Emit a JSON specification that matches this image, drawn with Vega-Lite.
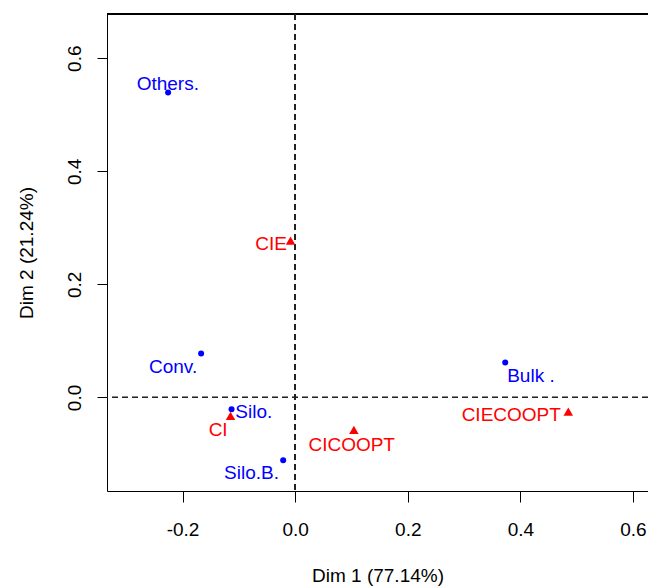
{
  "$schema": "https://vega.github.io/schema/vega-lite/v6.json",
  "width": 541,
  "height": 477,
  "autosize": "none",
  "padding": {"left": 107, "top": 14, "right": 0, "bottom": 95},
  "background": "white",
  "config": {
    "view": {"stroke": null},
    "font": "Liberation Sans"
  },
  "data": {
    "values": [
      {"name": "Others.", "group": "row", "x": -0.2257, "y": 0.5395, "lx": -0.2262, "ly": 0.556},
      {"name": "Conv.", "group": "row", "x": -0.167, "y": 0.0775, "lx": -0.2168, "ly": 0.0558},
      {"name": "Silo.", "group": "row", "x": -0.113, "y": -0.0209, "lx": -0.0734, "ly": -0.0239},
      {"name": "Silo.B.", "group": "row", "x": -0.0213, "y": -0.1112, "lx": -0.0775, "ly": -0.1313},
      {"name": "Bulk .", "group": "row", "x": 0.3731, "y": 0.0616, "lx": 0.4188, "ly": 0.0404},
      {"name": "CIE", "group": "col", "x": -0.0082, "y": 0.2775, "lx": -0.0426, "ly": 0.2729},
      {"name": "CI", "group": "col", "x": -0.1148, "y": -0.0327, "lx": -0.1368, "ly": -0.0566},
      {"name": "CICOOPT", "group": "col", "x": 0.1043, "y": -0.0575, "lx": 0.1004, "ly": -0.0818},
      {"name": "CIECOOPT", "group": "col", "x": 0.4851, "y": -0.0251, "lx": 0.3838, "ly": -0.0301}
    ]
  },
  "layer": [
    {
      "mark": {"type": "rule", "color": "#000", "strokeWidth": 1},
      "encoding": {
        "y": {"datum": 0.6782, "type": "quantitative"}
      }
    },
    {
      "mark": {"type": "rule", "color": "#222", "strokeWidth": 1, "strokeDash": [6, 4]},
      "encoding": {
        "x": {"datum": 0, "type": "quantitative"}
      }
    },
    {
      "mark": {"type": "rule", "color": "#222", "strokeWidth": 1, "strokeDash": [6, 4]},
      "encoding": {
        "y": {"datum": 0, "type": "quantitative"}
      }
    },
    {
      "mark": {"type": "point", "filled": true, "opacity": 1},
      "encoding": {
        "x": {
          "field": "x", "type": "quantitative",
          "scale": {"domain": [-0.3342, 0.6267], "nice": false, "zero": false},
          "axis": {
            "values": [-0.2, 0, 0.2, 0.4, 0.6],
            "labelExpr": "replace(format(datum.value, '.1f'), '\u2212', '-')",
            "grid": false,
            "domain": true, "domainColor": "#000", "domainWidth": 1,
            "ticks": true, "tickColor": "#000", "tickWidth": 1, "tickSize": 11,
            "labelFontSize": 19, "labelColor": "#000", "labelFont": "Liberation Sans",
            "labelBaseline": "alphabetic", "labelPadding": 33, "labelFlush": false, "labelOverlap": false,
            "title": "Dim 1 (77.14%)",
            "titleFontSize": 19, "titleFontWeight": "normal", "titleColor": "#000", "titleFont": "Liberation Sans",
            "titleBaseline": "alphabetic", "titleY": 90.5
          }
        },
        "y": {
          "field": "y", "type": "quantitative",
          "scale": {"domain": [-0.1655, 0.6782], "nice": false, "zero": false},
          "axis": {
            "values": [0, 0.2, 0.4, 0.6],
            "labelExpr": "replace(format(datum.value, '.1f'), '\u2212', '-')",
            "grid": false,
            "domain": true, "domainColor": "#000", "domainWidth": 1,
            "ticks": true, "tickColor": "#000", "tickWidth": 1, "tickSize": 10,
            "labelFontSize": 19, "labelColor": "#000", "labelFont": "Liberation Sans",
            "labelAngle": -90, "labelAlign": "center", "labelBaseline": "alphabetic", "labelPadding": 17,
            "labelFlush": false, "labelOverlap": false,
            "title": "Dim 2 (21.24%)",
            "titleFontSize": 19, "titleFontWeight": "normal", "titleColor": "#000", "titleFont": "Liberation Sans",
            "titleAngle": -90, "titleAlign": "center", "titleBaseline": "alphabetic", "titleX": -75, "titleY": 238.5
          }
        },
        "color": {"field": "group", "type": "nominal", "scale": {"domain": ["row", "col"], "range": ["#0000FF", "#FF0000"]}, "legend": null},
        "shape": {"field": "group", "type": "nominal", "scale": {"domain": ["row", "col"], "range": ["circle", "triangle-up"]}, "legend": null},
        "size": {"field": "group", "type": "nominal", "scale": {"domain": ["row", "col"], "range": [36, 90]}, "legend": null}
      }
    },
    {
      "mark": {"type": "text", "fontSize": 19, "font": "Liberation Sans", "align": "center", "baseline": "alphabetic", "dy": 7},
      "encoding": {
        "x": {"field": "lx", "type": "quantitative"},
        "y": {"field": "ly", "type": "quantitative"},
        "text": {"field": "name"},
        "color": {"field": "group", "type": "nominal", "legend": null}
      }
    }
  ]
}
